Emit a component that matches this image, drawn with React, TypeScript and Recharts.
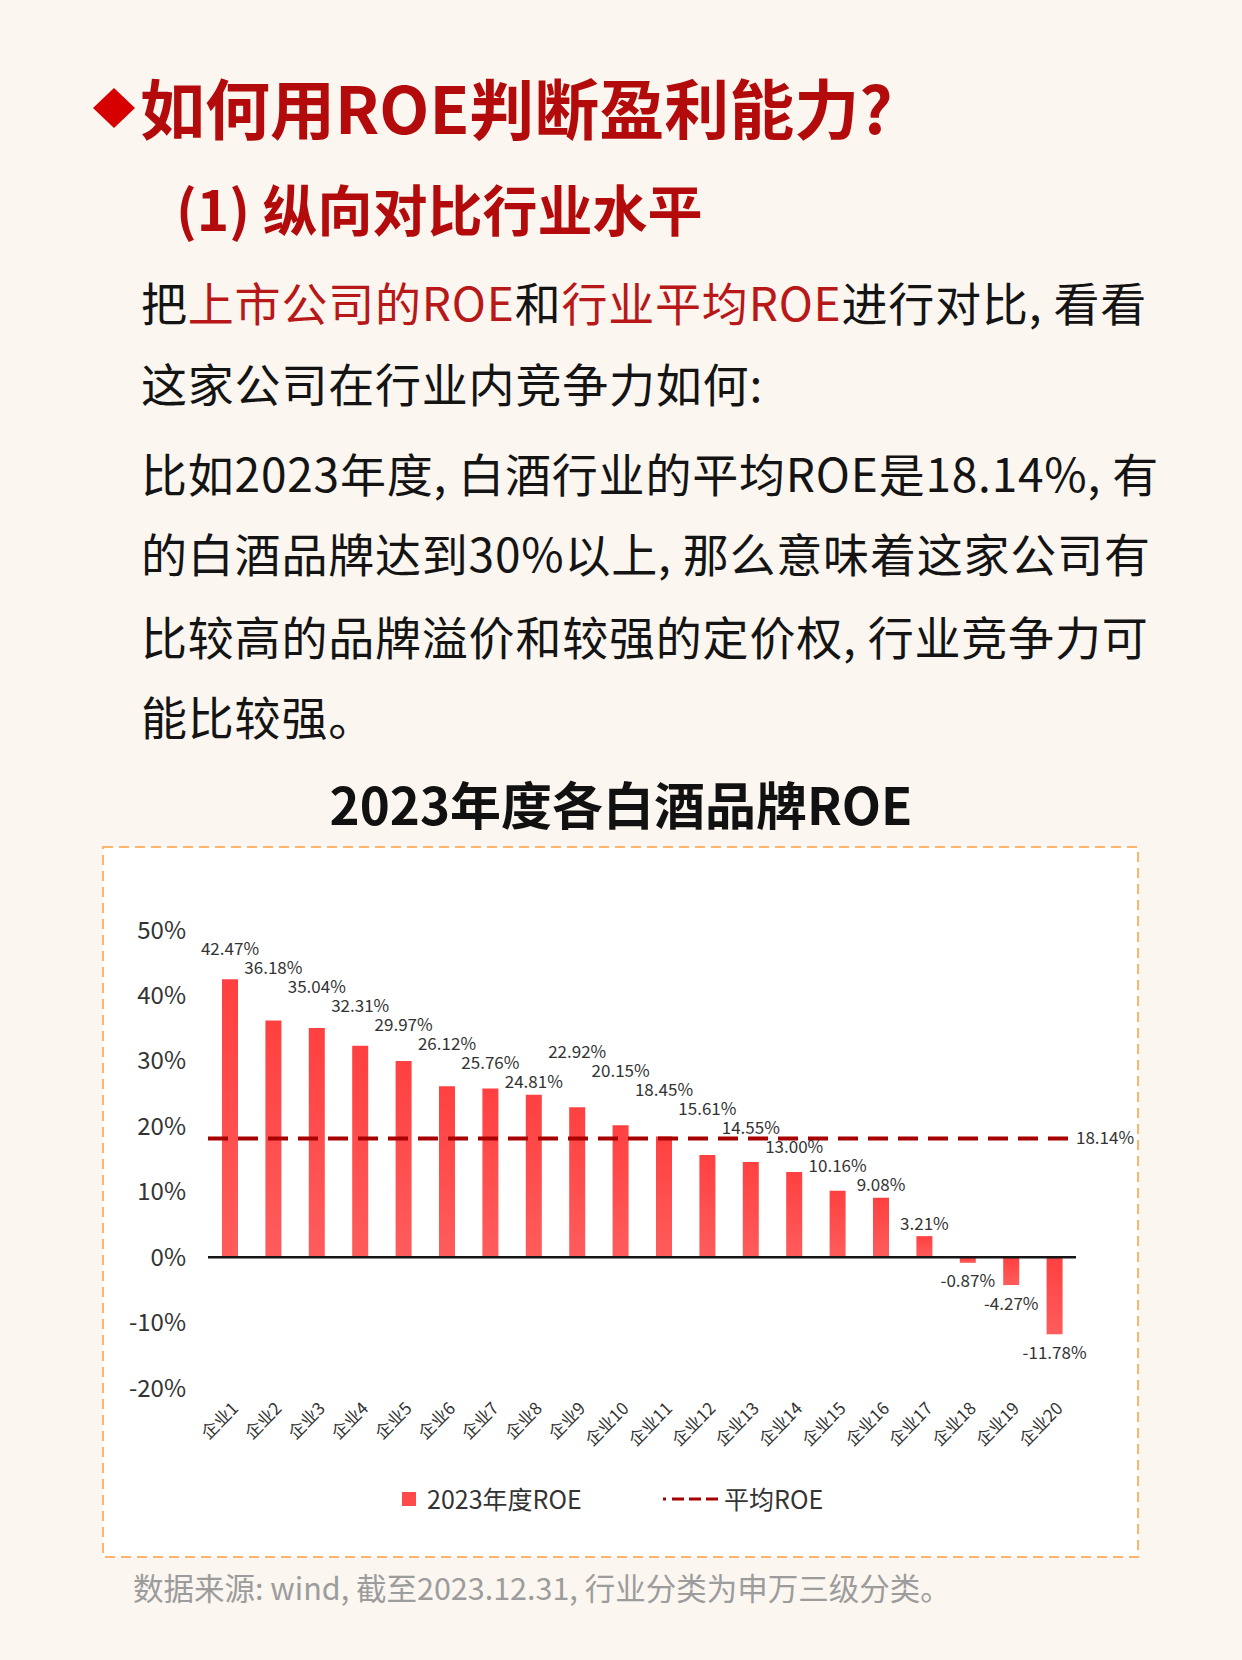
import React from 'react'
import { Bar, BarChart, LabelList, ReferenceLine, XAxis, YAxis } from 'recharts'

// chart data
const companies = ['企业1', '企业2', '企业3', '企业4', '企业5', '企业6', '企业7', '企业8', '企业9', '企业10',
  '企业11', '企业12', '企业13', '企业14', '企业15', '企业16', '企业17', '企业18', '企业19', '企业20']
const roe2023 = [42.47, 36.18, 35.04, 32.31, 29.97, 26.12, 25.76, 24.81, 22.92, 20.15,
  18.45, 15.61, 14.55, 13.0, 10.16, 9.08, 3.21, -0.87, -4.27, -11.78]
const industryAvg = 18.14
const yTicks = [-20, -10, 0, 10, 20, 30, 40, 50]
const seriesNames = ['2023年度ROE', '平均ROE']

const chartData = companies.map((name, i) => ({ name, roe: roe2023[i] }))

const FONT = '"Noto Sans CJK SC", "Noto Sans", sans-serif'
const BAR_RED = '#ff4a4a'
const AVG_RED = '#a80000'
const TEXT = '#333333'

// chart geometry
const CHART_W = 1035
const CHART_H = 710
const MARGIN = { top: 83, right: 62, bottom: 69, left: 0 }
const XAXIS_H = 100
const Y_MIN = yTicks[0]
const Y_MAX = yTicks[yTicks.length - 1]

const pct = (v: number) => `${v.toFixed(2)}%`

// stagger the value labels so neighbours don't collide: walk right to left and
// lift a label above its right neighbour unless it clearly sits below it
const LABEL_STEP = 19
const LABEL_BELOW = 25
const LABEL_PAD = 14
const pxPerUnit = (CHART_H - MARGIN.top - MARGIN.bottom - XAXIS_H) / (Y_MAX - Y_MIN)
const labelLift: number[] = (() => {
  const lifts = roe2023.map(() => 0)
  let next: number | null = null
  for (let i = roe2023.length - 1; i >= 0; i--) {
    const v = roe2023[i]
    if (v < 0) { next = null; continue }
    const top = (Y_MAX - v) * pxPerUnit
    let c = top - LABEL_PAD
    if (next !== null && c < next + LABEL_BELOW) c = Math.min(c, next - LABEL_STEP)
    lifts[i] = top - c
    next = c
  }
  return lifts
})()

const renderValueLabel = (props: any) => {
  const { x, y, width, height, value, index } = props
  const top = Math.min(y, y + height)
  const bottom = Math.max(y, y + height)
  const cy = value >= 0 ? top - labelLift[index] : bottom + 17
  return (
    <text x={x + width / 2} y={cy} textAnchor="middle" dominantBaseline="central" fill={TEXT} fontSize={17} fontFamily={FONT}>
      {pct(value)}
    </text>
  )
}

const CompanyTick = (props: any) => {
  const { x, y, payload } = props
  return (
    <g transform={`translate(${x},${y})`}>
      <text x={0} y={0} dy="0.8em" textAnchor="end" transform="rotate(-45)" fill={TEXT} fontSize={17} fontFamily={FONT}>
        {payload.value}
      </text>
    </g>
  )
}

const abs = (left: number, top: number, extra: React.CSSProperties = {}): React.CSSProperties => ({
  position: 'absolute', left, top, whiteSpace: 'nowrap', ...extra,
})

const bodyStyle: React.CSSProperties = { fontSize: 46, lineHeight: '46px', color: '#141414', letterSpacing: 0.8 }
const hl: React.CSSProperties = { color: '#b81818' }

export default function App() {
  return (
    <div style={{ position: 'absolute', left: 0, top: 0, width: 1242, height: 1660, background: '#fbf6f0', fontFamily: FONT, overflow: 'hidden' }}>
      {/* heading */}
      <svg style={abs(93, 88)} width={42} height={40}>
        <polygon points="0,20 21,0 42,20 21,40" fill="#d60000" />
      </svg>
      <div style={abs(140, 74, { fontSize: 65, lineHeight: '65px', fontWeight: 700, color: '#b30b0b' })}>如何用ROE判断盈利能力?</div>
      <div style={abs(176, 180, { fontSize: 55, lineHeight: '55px', fontWeight: 700, color: '#b30b0b' })}>(1) 纵向对比行业水平</div>

      <div style={abs(141, 278, bodyStyle)}>
        把<span style={hl}>上市公司的ROE</span>和<span style={hl}>行业平均ROE</span>进行对比, 看看
      </div>
      <div style={abs(141, 359, bodyStyle)}>这家公司在行业内竞争力如何:</div>
      <div style={abs(141, 449, bodyStyle)}>比如2023年度, 白酒行业的平均ROE是18.14%, 有</div>
      <div style={abs(141, 529, bodyStyle)}>的白酒品牌达到30%以上, 那么意味着这家公司有</div>
      <div style={abs(141, 612, bodyStyle)}>比较高的品牌溢价和较强的定价权, 行业竞争力可</div>
      <div style={abs(141, 692, bodyStyle)}>能比较强。</div>

      <div style={{ position: 'absolute', left: 0, width: 1242, top: 777, textAlign: 'center', fontSize: 51, lineHeight: '52px', fontWeight: 700, color: '#111' }}>
        2023年度各白酒品牌ROE
      </div>

      {/* dashed chart frame */}
      <svg style={abs(102, 846)} width={1037} height={712}>
        <rect x={1} y={1} width={1035} height={710} fill="#ffffff" stroke="#fdb46c" strokeWidth={2} strokeDasharray="10 6" />
      </svg>

      <div style={abs(103, 847)}>
        <BarChart width={CHART_W} height={CHART_H} data={chartData} margin={MARGIN} style={{ fontFamily: FONT }}>
          <defs>
            <linearGradient id="roeFill" x1="0" y1="0" x2="0" y2="1">
              <stop offset="0%" stopColor="#ff4040" />
              <stop offset="100%" stopColor="#ff5c5c" />
            </linearGradient>
          </defs>
          <XAxis dataKey="name" interval={0} axisLine={false} tickLine={false} tickSize={0} tickMargin={12}
            height={XAXIS_H} tick={<CompanyTick />} />
          <YAxis domain={[Y_MIN, Y_MAX]} ticks={yTicks} allowDataOverflow width={105} axisLine={false} tickLine={false}
            tickSize={0} tickMargin={22} tickFormatter={(v: number) => `${v}%`} tick={{ fill: TEXT, fontSize: 24 }} />
          <Bar dataKey="roe" name={seriesNames[0]} barSize={16} fill="url(#roeFill)" isAnimationActive={false}>
            <LabelList dataKey="roe" content={renderValueLabel} />
          </Bar>
          <ReferenceLine y={0} stroke="#161616" strokeWidth={2.5} />
          <ReferenceLine y={industryAvg} stroke={AVG_RED} strokeWidth={4} strokeDasharray="20 10"
            label={{ value: pct(industryAvg), position: 'right', offset: 0, fill: TEXT, fontSize: 17 }} />
        </BarChart>
      </div>

      {/* legend */}
      <div style={abs(402, 1492, { width: 14, height: 14, background: BAR_RED })} />
      <div style={abs(427, 1485, { fontSize: 25, lineHeight: '26px', color: TEXT })}>{seriesNames[0]}</div>
      <svg style={abs(663, 1497)} width={58} height={4}>
        <line x1={0} y1={2} x2={58} y2={2} stroke={AVG_RED} strokeWidth={3} strokeDasharray="3 6 12 5 12 5 12 5" />
      </svg>
      <div style={abs(724, 1485, { fontSize: 25, lineHeight: '26px', color: TEXT })}>{seriesNames[1]}</div>

      <div style={abs(133, 1572, { fontSize: 30.5, lineHeight: '31px', color: '#9c9c9c' })}>
        数据来源: wind, 截至2023.12.31, 行业分类为申万三级分类。
      </div>
    </div>
  )
}
